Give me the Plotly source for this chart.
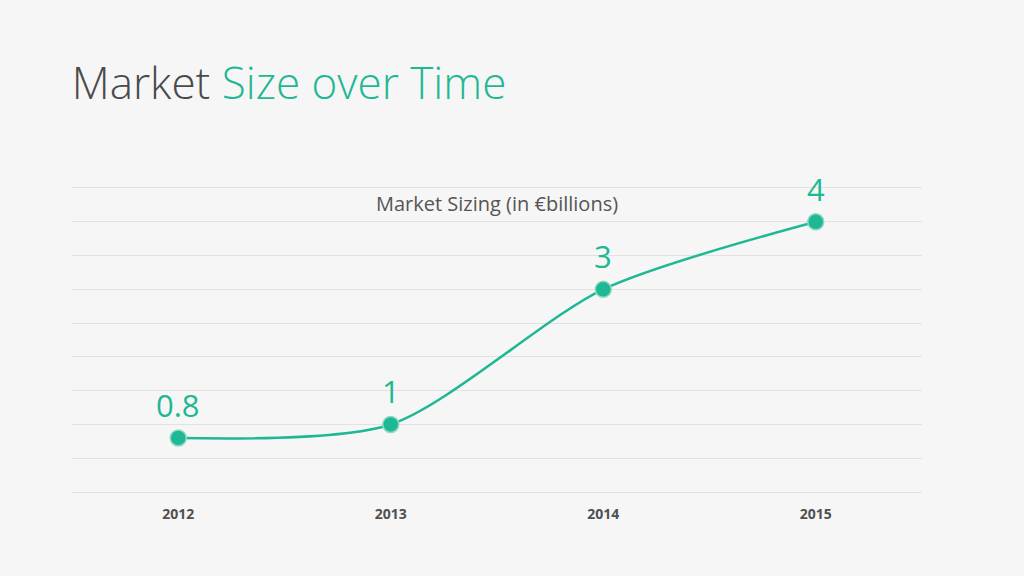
import plotly.graph_objects as go

# chart data
years = ["2012", "2013", "2014", "2015"]
market_size = [0.8, 1, 3, 4]
point_labels = ["0.8", "1", "3", "4"]

TEAL = "#1fb895"
BG = "#f6f6f6"

fig = go.Figure()

fig.add_trace(go.Scatter(
    x=years, y=market_size,
    mode="lines+markers",
    line=dict(color=TEAL, width=2.5, shape="spline", smoothing=0.75),
    marker=dict(size=16, color=TEAL, line=dict(color="#8fd9c4", width=1.5)),
    cliponaxis=False,
    showlegend=False,
))

notes = [dict(
    text="Market Sizing (in €billions)",
    xref="paper", yref="paper", x=0.5, y=0.95, yanchor="middle",
    showarrow=False,
    font=dict(family="Open Sans", size=20, color="#555555"),
)]
# value labels above each point (category index, since the years look numeric)
for i, (val, lab) in enumerate(zip(market_size, point_labels)):
    notes.append(dict(
        x=i, y=val, xref="x", yref="y", text=lab, showarrow=False,
        yanchor="middle", yshift=33,
        font=dict(family="Open Sans", size=31, color=TEAL),
    ))

fig.update_layout(
    width=1024, height=576,
    paper_bgcolor=BG, plot_bgcolor=BG,
    margin=dict(l=72, r=102, t=188, b=84),
    title=dict(
        text="Market <span style='color:%s'>Size over Time</span>" % TEAL,
        x=0.07, xanchor="left", y=0.855, yanchor="middle",
        font=dict(family="Open Sans", size=44, color="#4a4a4a", weight=300),
    ),
    annotations=notes,
)

fig.update_xaxes(
    type="category", range=[-0.5, 3.5],
    showgrid=False, zeroline=False,
    showline=True, mirror=True, linecolor="#e2e2e2", linewidth=1,
    tickfont=dict(family="Open Sans", size=14, color="#505050", weight="bold"),
    ticks="", ticklabelstandoff=9,
)
fig.update_yaxes(
    range=[0, 4.5], dtick=0.5,
    showgrid=True, gridcolor="#e2e2e2", gridwidth=1,
    zeroline=True, zerolinecolor="#e2e2e2", zerolinewidth=1,
    showticklabels=False, showline=False,
)

fig.write_html(
    "out.html",
    config={"displayModeBar": False},
    post_script="document.body.style.margin='0';document.body.style.background='%s';" % BG,
)
